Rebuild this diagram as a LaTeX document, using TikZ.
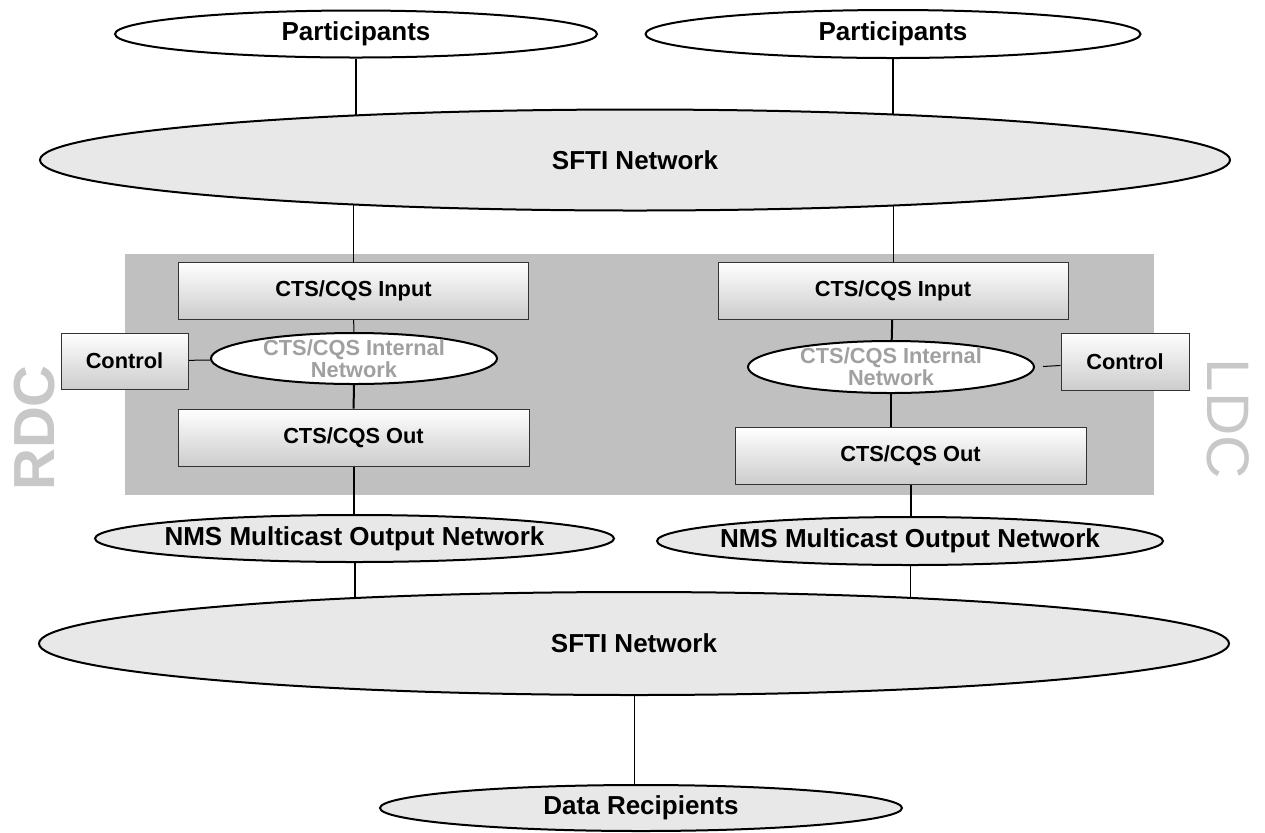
\documentclass[tikz,border=0pt]{standalone}
\usepackage{fontspec}
\setmainfont{Liberation Sans}
\usetikzlibrary{shapes.geometric,backgrounds}
\definecolor{netfill}{HTML}{E8E8E8}
\definecolor{dcgray}{HTML}{C0C0C0}
\definecolor{dctext}{HTML}{C8C8C8}
\definecolor{inttext}{HTML}{A0A0A0}
\tikzstyle{link} = [draw, line width=0.5pt]
\tikzstyle{thicklink} = [draw, line width=1pt]
\tikzstyle{block} = [draw=black!80, line width=0.5pt, rectangle, top color=white, bottom color=gray!40, text centered, inner sep=0pt, minimum height=28.5pt, font=\fontsize{10.9}{12}\selectfont\bfseries]
\tikzstyle{cloud} = [draw, ellipse, line width=1pt, fill=netfill, inner sep=0pt, font=\fontsize{13}{15}\selectfont\bfseries]
\tikzstyle{intnet} = [draw, ellipse, line width=1pt, fill=white, inner sep=0pt, minimum width=143pt]
\tikzstyle{inttxt} = [text=inttext, align=center, font=\fontsize{10.9}{11}\selectfont\bfseries]
\tikzstyle{nmstxt} = [font=\fontsize{13}{15}\selectfont\bfseries]

\begin{document}
\begin{tikzpicture}[x=0.5pt, y=-0.5pt]
        \useasboundingbox (0,0) rectangle (1265,832);
        \begin{scope}[on background layer]
            \fill[dcgray] (125,254) rectangle (1154,495);
        \end{scope}
        % networks
        \node[cloud, fill=white, minimum width=241pt, minimum height=23.5pt] (partL) at (356,34) {Participants};
        \node[cloud, fill=white, minimum width=247.5pt, minimum height=24pt] (partR) at (893,34) {Participants};
        \node[cloud, minimum width=595pt, minimum height=50.5pt] (sftiT) at (635,160) {SFTI Network};
        \node[cloud, minimum width=259.5pt, minimum height=23.5pt, label={[nmstxt]center:NMS Multicast Output Network}] (nmsL) at (354.5,538.5) {};
        \node[cloud, minimum width=253pt, minimum height=24pt, label={[nmstxt]center:NMS Multicast Output Network}] (nmsR) at (910,541) {};
        \node[cloud, minimum width=595pt, minimum height=51.5pt] (sftiB) at (634,643.5) {SFTI Network};
        \node[cloud, minimum width=261pt, minimum height=23pt] (data) at (641,808) {Data Recipients};
        % RDC side
        \node[block, minimum width=175pt] (inL) at (353.5,290.5) {CTS/CQS Input};
        \node[intnet, minimum height=25.5pt, label={[inttxt]center:CTS/CQS Internal\\Network}] (intL) at (354,358.5) {};
        \node[block, minimum width=63.5pt, minimum height=28pt] (ctlL) at (124.5,361) {Control};
        \node[block, minimum width=175.5pt] (outL) at (353.5,437.5) {CTS/CQS Out};
        \node[rotate=90, text=dctext, font=\fontsize{29}{30}\selectfont\bfseries] (rdc) at (35,428) {RDC};
        % LDC side
        \node[block, minimum width=175pt] (inR) at (893,290.5) {CTS/CQS Input};
        \node[intnet, minimum height=26pt, label={[inttxt]center:CTS/CQS Internal\\Network}] (intR) at (891,367) {};
        \node[block, minimum width=64pt] (ctlR) at (1125,361.5) {Control};
        \node[block, minimum width=175.5pt] (outR) at (910.5,455.5) {CTS/CQS Out};
        \node[rotate=-90, text=dctext, font=\fontsize{30}{31}\selectfont] (ldc) at (1228,419) {LDC};
        \begin{scope}[on background layer]
            \path[thicklink] (partL) -- (partL |- sftiT.center);
            \path[thicklink] (partR) -- (partR |- sftiT.center);
            \path[link] (inL.north) -- (inL.north |- sftiT.center);
            \path[link] (inR.north) -- (inR.north |- sftiT.center);
            \path[link] (inL) -- (intL);
            \path[thicklink] (inR) -- (intR);
            \path[thicklink] (intL) -- (outL);
            \path[thicklink] (intR) -- (intR |- outR.north);
            \path[link] (ctlL) -- (intL);
            \path[link, shorten <=4pt] (intR.east) -- (ctlR);
            \path[thicklink] (outL) -- (outL |- nmsL.center);
            \path[thicklink] (outR) -- (outR |- nmsR.center);
            \path[thicklink] (nmsL) -- (nmsL |- sftiB.center);
            \path[link] (nmsR) -- (nmsR |- sftiB.center);
            \path[link] (sftiB) -- (sftiB |- data.center);
        \end{scope}
    \end{tikzpicture}
\end{document}
